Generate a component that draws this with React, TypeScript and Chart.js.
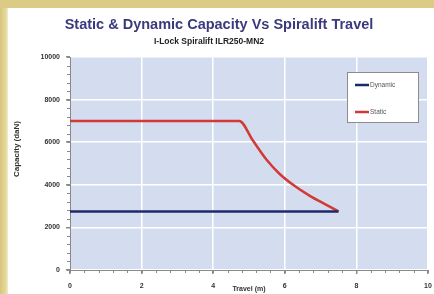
import React, { useEffect, useRef } from "react";
import { Chart, registerables } from "chart.js";
Chart.register(...registerables);

const titleText = "Static & Dynamic Capacity Vs Spiralift Travel";
const subtitleText = "I-Lock Spiralift ILR250-MN2";
const xTitle = "Travel (m)";
const yTitle = "Capacity (daN)";
const legendLabels = ["Dynamic", "Static"];

const dynamicX = [0, 7.5];
const dynamicY = [2750, 2750];
const staticX = [0, 4.73, 5.1, 5.48, 5.85, 6.23, 6.7, 7.16, 7.5];
const staticY = [7000, 7000, 6100, 5200, 4520, 4000, 3480, 3060, 2750];

const DYN_COLOR = "#1f2868";
const STAT_COLOR = "#d23a36";
const FONT = "'Liberation Sans', Arial, sans-serif";

const decor = {
  id: "decor",
  beforeDraw(chart: any) {
    const { ctx, chartArea: a } = chart;
    ctx.save();
    ctx.fillStyle = "#ffffff";
    ctx.fillRect(0, 0, chart.width, chart.height);
    ctx.fillStyle = "#d4ddef";
    ctx.fillRect(a.left, a.top, a.right - a.left, a.bottom - a.top);
    ctx.restore();
  },
  afterDraw(chart: any) {
    const { ctx, chartArea: a, scales } = chart;
    ctx.save();
    ctx.textAlign = "center";
    ctx.textBaseline = "middle";
    ctx.fillStyle = "#3a3a7c";
    ctx.font = `bold 14.5px ${FONT}`;
    ctx.fillText(titleText, 211, 17);
    ctx.fillStyle = "#222";
    ctx.font = `bold 8.5px ${FONT}`;
    ctx.fillText(subtitleText, 201, 34);
    ctx.font = `bold 7px ${FONT}`;
    ctx.fillStyle = "#333";
    ctx.fillText(xTitle, (a.left + a.right) / 2, 281);
    ctx.save();
    ctx.translate(9, 141);
    ctx.rotate(-Math.PI / 2);
    ctx.font = `bold 8px ${FONT}`;
    ctx.fillText(yTitle, 0, 0);
    ctx.restore();
    ctx.strokeStyle = "#8a8a8a";
    ctx.lineWidth = 1;
    const ys = scales.y;
    for (let v = 0; v <= 10000; v += 400) {
      const py = Math.round(ys.getPixelForValue(v)) + 0.5;
      ctx.beginPath();
      ctx.moveTo(a.left - 3, py);
      ctx.lineTo(a.left, py);
      ctx.stroke();
    }
    const xs = scales.x;
    for (let i = 0; i <= 25; i++) {
      const px = Math.round(xs.getPixelForValue(i * 0.4)) + 0.5;
      ctx.beginPath();
      ctx.moveTo(px, a.bottom);
      ctx.lineTo(px, a.bottom + 3);
      ctx.stroke();
    }
    const lx = 339, ly = 64, lw = 71, lh = 50;
    ctx.fillStyle = "#ffffff";
    ctx.fillRect(lx, ly, lw, lh);
    ctx.strokeStyle = "#8c8c8c";
    ctx.strokeRect(lx + 0.5, ly + 0.5, lw, lh);
    const colors = [DYN_COLOR, STAT_COLOR];
    const rows = [ly + 13, ly + 40];
    ctx.textAlign = "left";
    ctx.font = `6.5px ${FONT}`;
    legendLabels.forEach((lab, i) => {
      ctx.strokeStyle = colors[i];
      ctx.lineWidth = 2.5;
      ctx.beginPath();
      ctx.moveTo(lx + 8, rows[i]);
      ctx.lineTo(lx + 22, rows[i]);
      ctx.stroke();
      ctx.fillStyle = "#555";
      ctx.fillText(lab, lx + 23, rows[i]);
    });
    ctx.restore();
  },
};

export default function App() {
  const ref = useRef<HTMLCanvasElement>(null);
  useEffect(() => {
    document.body.style.margin = "0";
    const chart = new Chart(ref.current!, {
      type: "line",
      data: {
        datasets: [
          {
            label: legendLabels[0],
            data: dynamicX.map((x, i) => ({ x, y: dynamicY[i] })),
            borderColor: DYN_COLOR,
            borderWidth: 2.5,
            pointRadius: 0,
          },
          {
            label: legendLabels[1],
            data: staticX.map((x, i) => ({ x, y: staticY[i] })),
            borderColor: STAT_COLOR,
            borderWidth: 2.5,
            pointRadius: 0,
            cubicInterpolationMode: "monotone",
          },
        ],
      },
      options: {
        animation: false,
        responsive: false,
        layout: { padding: { top: 49, right: 6, left: 0, bottom: 0 } },
        plugins: { legend: { display: false }, tooltip: { enabled: false } },
        scales: {
          x: {
            type: "linear",
            min: 0,
            max: 10,
            ticks: { stepSize: 2, padding: 8, color: "#333", font: { size: 7, family: FONT, weight: "bold" }, maxRotation: 0 },
            grid: { color: "#ffffff", lineWidth: 1.5, tickColor: "#8a8a8a", tickLength: 4 },
            border: { color: "#8a8a8a", width: 1 },
            afterFit: (s: any) => { s.height = 24; s.paddingRight = 0; s.paddingLeft = 0; },
          },
          y: {
            min: 0,
            max: 10000,
            ticks: { stepSize: 2000, padding: 6, color: "#333", font: { size: 7, family: FONT, weight: "bold" }, callback: (v: any) => String(v) },
            grid: { color: "#ffffff", lineWidth: 1.5, tickColor: "#8a8a8a", tickLength: 4 },
            border: { color: "#8a8a8a", width: 1 },
            afterFit: (s: any) => { s.width = 62; s.paddingTop = 0; s.paddingBottom = 0; },
          },
        },
      },
      plugins: [decor],
    } as any);
    return () => chart.destroy();
  }, []);
  return (
    <div style={{ position: "fixed", left: 0, top: 0, width: 434, height: 294, background: "linear-gradient(90deg, #d6c57c 0px, #e6da9e 6px, #fff 10px)" }}>
      <div style={{ position: "absolute", left: 0, top: 0, width: 434, height: 8, background: "#dccb85" }} />
      <canvas ref={ref} width={426} height={286} style={{ position: "absolute", left: 8, top: 8, width: 426, height: 286 }} />
    </div>
  );
}
